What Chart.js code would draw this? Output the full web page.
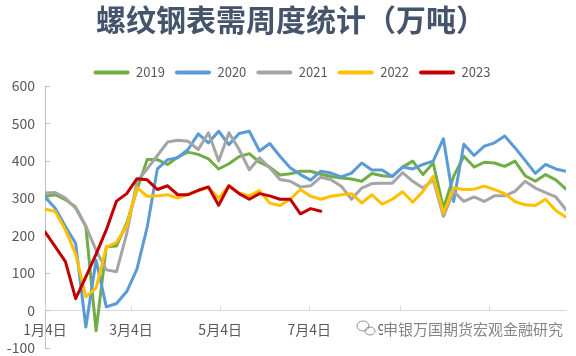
<!DOCTYPE html>
<html>
<head>
<meta charset="utf-8">
<script src="https://cdn.jsdelivr.net/npm/chart.js@4/dist/chart.umd.min.js"></script>
<style>
  html, body { margin: 0; padding: 0; background: #ffffff; }
  #wrap { width: 576px; height: 356px; position: relative; }
</style>
</head>
<body>
<div id="wrap"><canvas id="c" width="576" height="356"></canvas></div>
<script>
// ---- data ----
const weeks = [
  '01-04','01-11','01-18','01-25','02-01','02-08','02-15','02-22',
  '03-01','03-08','03-15','03-22','03-29','04-05','04-12','04-19','04-26',
  '05-03','05-10','05-17','05-24','05-31','06-07','06-14','06-21','06-28',
  '07-05','07-12','07-19','07-26','08-02','08-09','08-16','08-23','08-30',
  '09-06','09-13','09-20','09-27','10-04','10-11','10-18','10-25',
  '11-01','11-08','11-15','11-22','11-29','12-06','12-13','12-20','12-27'
];
const tickDates  = ['01-04','03-04','05-04','07-04','09-04','11-04'];
const tickLabels = ['1月4日','3月4日','5月4日','7月4日','9月4日','11月4日'];

const seriesNames = ['2019','2020','2021','2022','2023'];
const v2019 = [305,309,296,276,224,-55,170,172,233,322,403,403,390,410,423,417,405,378,392,411,419,396,383,362,365,372,372,364,358,354,351,345,366,360,358,383,399,363,394,273,358,412,383,396,394,385,399,360,345,363,349,324];
const v2020 = [303,273,224,179,-45,134,9,18,50,110,222,378,403,408,430,472,448,479,443,473,479,426,446,412,381,363,348,372,367,357,367,394,375,375,358,383,378,390,399,459,291,444,414,439,448,466,435,401,366,390,378,372];
const v2021 = [314,315,300,273,225,160,108,103,205,345,378,414,450,455,452,430,475,399,475,430,376,408,381,350,345,330,333,356,349,332,297,327,339,340,340,368,345,327,349,251,318,291,303,291,306,306,318,345,327,315,303,269];
const v2022 = [271,264,215,150,36,60,168,182,225,328,305,306,309,300,311,320,328,300,333,314,306,320,287,280,297,323,305,297,305,309,312,287,309,284,297,317,289,318,358,260,327,323,324,332,323,312,291,282,280,297,267,249];
const v2023 = [210,170,130,31,89,150,215,292,312,352,349,323,333,309,309,321,330,281,333,312,297,312,306,297,297,258,272,265];

const colors = ['#70ad47','#5b9bd5','#a5a5a5','#ffc000','#c00000'];
const allValues = [v2019, v2020, v2021, v2022, v2023];

// ---- helpers ----
function dayOf(mmdd) {
  const [m, d] = mmdd.split('-').map(Number);
  return Math.round((Date.UTC(2023, m - 1, d) - Date.UTC(2023, 0, 4)) / 86400000);
}
const weekDays = weeks.map(dayOf);
const tickDays = tickDates.map(dayOf);

const CJK = '"Noto Sans CJK SC", "Noto Sans", sans-serif';

const datasets = seriesNames.map((name, k) => ({
  label: name,
  data: allValues[k].map((v, i) => ({ x: weekDays[i], y: v })),
  borderColor: colors[k],
  backgroundColor: colors[k],
  borderWidth: 3,
  pointRadius: 0,
  pointHoverRadius: 0,
  tension: 0,
  borderJoinStyle: 'round',
  borderCapStyle: 'round',
  order: seriesNames.length - k
}));

const decor = {
  id: 'decor',
  afterLayout(chart) {
    if (chart.legend) { chart.legend.left += 9; chart.legend.right += 9; }
    if (chart.titleBlock) { chart.titleBlock.left += 8; chart.titleBlock.right += 8; }
  },
  beforeDatasetsDraw(chart) {
    const { ctx, scales: { x, y } } = chart;
    ctx.save();
    ctx.lineWidth = 1;
    ctx.strokeStyle = '#bfbfbf';
    y.ticks.forEach(t => {
      const py = Math.round(y.getPixelForValue(t.value)) + 0.5;
      ctx.beginPath(); ctx.moveTo(x.left, py); ctx.lineTo(x.left + 5, py); ctx.stroke();
    });
    const y0 = Math.round(y.getPixelForValue(0)) + 0.5;
    ctx.strokeStyle = '#d9d9d9';
    x.ticks.forEach(t => {
      const px = Math.round(x.getPixelForValue(t.value)) + 0.5;
      ctx.beginPath(); ctx.moveTo(px, y0); ctx.lineTo(px, y0 - 5); ctx.stroke();
    });
    ctx.restore();
  },
  afterDraw(chart) {
    const { ctx } = chart;
    ctx.save();
    ctx.fillStyle = '#ffffff';
    ctx.fillRect(383, 316, 193, 28);
    // small chat-bubble icon
    ctx.strokeStyle = 'rgba(120,120,120,0.8)';
    ctx.lineWidth = 1;
    ctx.beginPath(); ctx.ellipse(363, 326, 6, 5, 0, 0, Math.PI * 2); ctx.stroke();
    ctx.beginPath(); ctx.ellipse(370, 331, 5, 4, 0, 0, Math.PI * 2); ctx.stroke();
    ctx.fillStyle = 'rgba(110,110,110,0.85)';
    ctx.font = '15px ' + CJK;
    ctx.textBaseline = 'middle';
    ctx.textAlign = 'left';
    ctx.fillText('申银万国期货宏观金融研究', 383, 329);
    ctx.restore();
  }
};

new Chart(document.getElementById('c'), {
  type: 'line',
  data: { datasets },
  plugins: [decor],
  options: {
    responsive: false,
    animation: false,
    events: [],
    layout: { padding: { left: 0, right: 10, top: 0, bottom: 0 } },
    plugins: {
      title: {
        display: true,
        text: '螺纹钢表需周度统计（万吨）',
        color: '#44546A',
        font: { family: CJK, size: 30, weight: 'bold' },
        padding: { top: 2, bottom: 18 }
      },
      legend: {
        display: true,
        position: 'top',
        maxHeight: 30,
        labels: {
          color: '#595959',
          font: { family: CJK, size: 13 },
          boxWidth: 36,
          boxHeight: 4,
          useBorderRadius: true,
          borderRadius: 2,
          padding: 10,
          generateLabels(chart) {
            const items = Chart.defaults.plugins.legend.labels.generateLabels(chart);
            items.forEach(it => { it.lineWidth = 0; it.fillStyle = it.strokeStyle; });
            return items.sort((a, b) => a.datasetIndex - b.datasetIndex);
          }
        }
      },
      tooltip: { enabled: false }
    },
    scales: {
      x: {
        type: 'linear',
        position: { y: 0 },
        min: 0,
        max: weekDays[weekDays.length - 1],
        afterBuildTicks(scale) { scale.ticks = tickDays.map(v => ({ value: v })); },
        afterFit(scale) { scale.height = 0; },
        grid: { display: false, drawTicks: false },
        border: { display: true, color: '#d9d9d9', width: 1 },
        ticks: {
          autoSkip: false,
          maxRotation: 0,
          padding: 11,
          color: '#595959',
          font: { family: CJK, size: 14 },
          callback(value) { const k = tickDays.indexOf(value); return k >= 0 ? tickLabels[k] : ''; }
        }
      },
      y: {
        min: -100,
        max: 600,
        afterFit(scale) { scale.width = 45; },
        grid: { display: true, drawOnChartArea: false, drawTicks: true, tickLength: 10, tickColor: 'rgba(0,0,0,0)' },
        border: { display: true, color: '#bfbfbf', width: 1 },
        ticks: {
          stepSize: 100,
          padding: 0,
          color: '#595959',
          font: { family: CJK, size: 14 }
        }
      }
    }
  }
});
</script>
</body>
</html>
